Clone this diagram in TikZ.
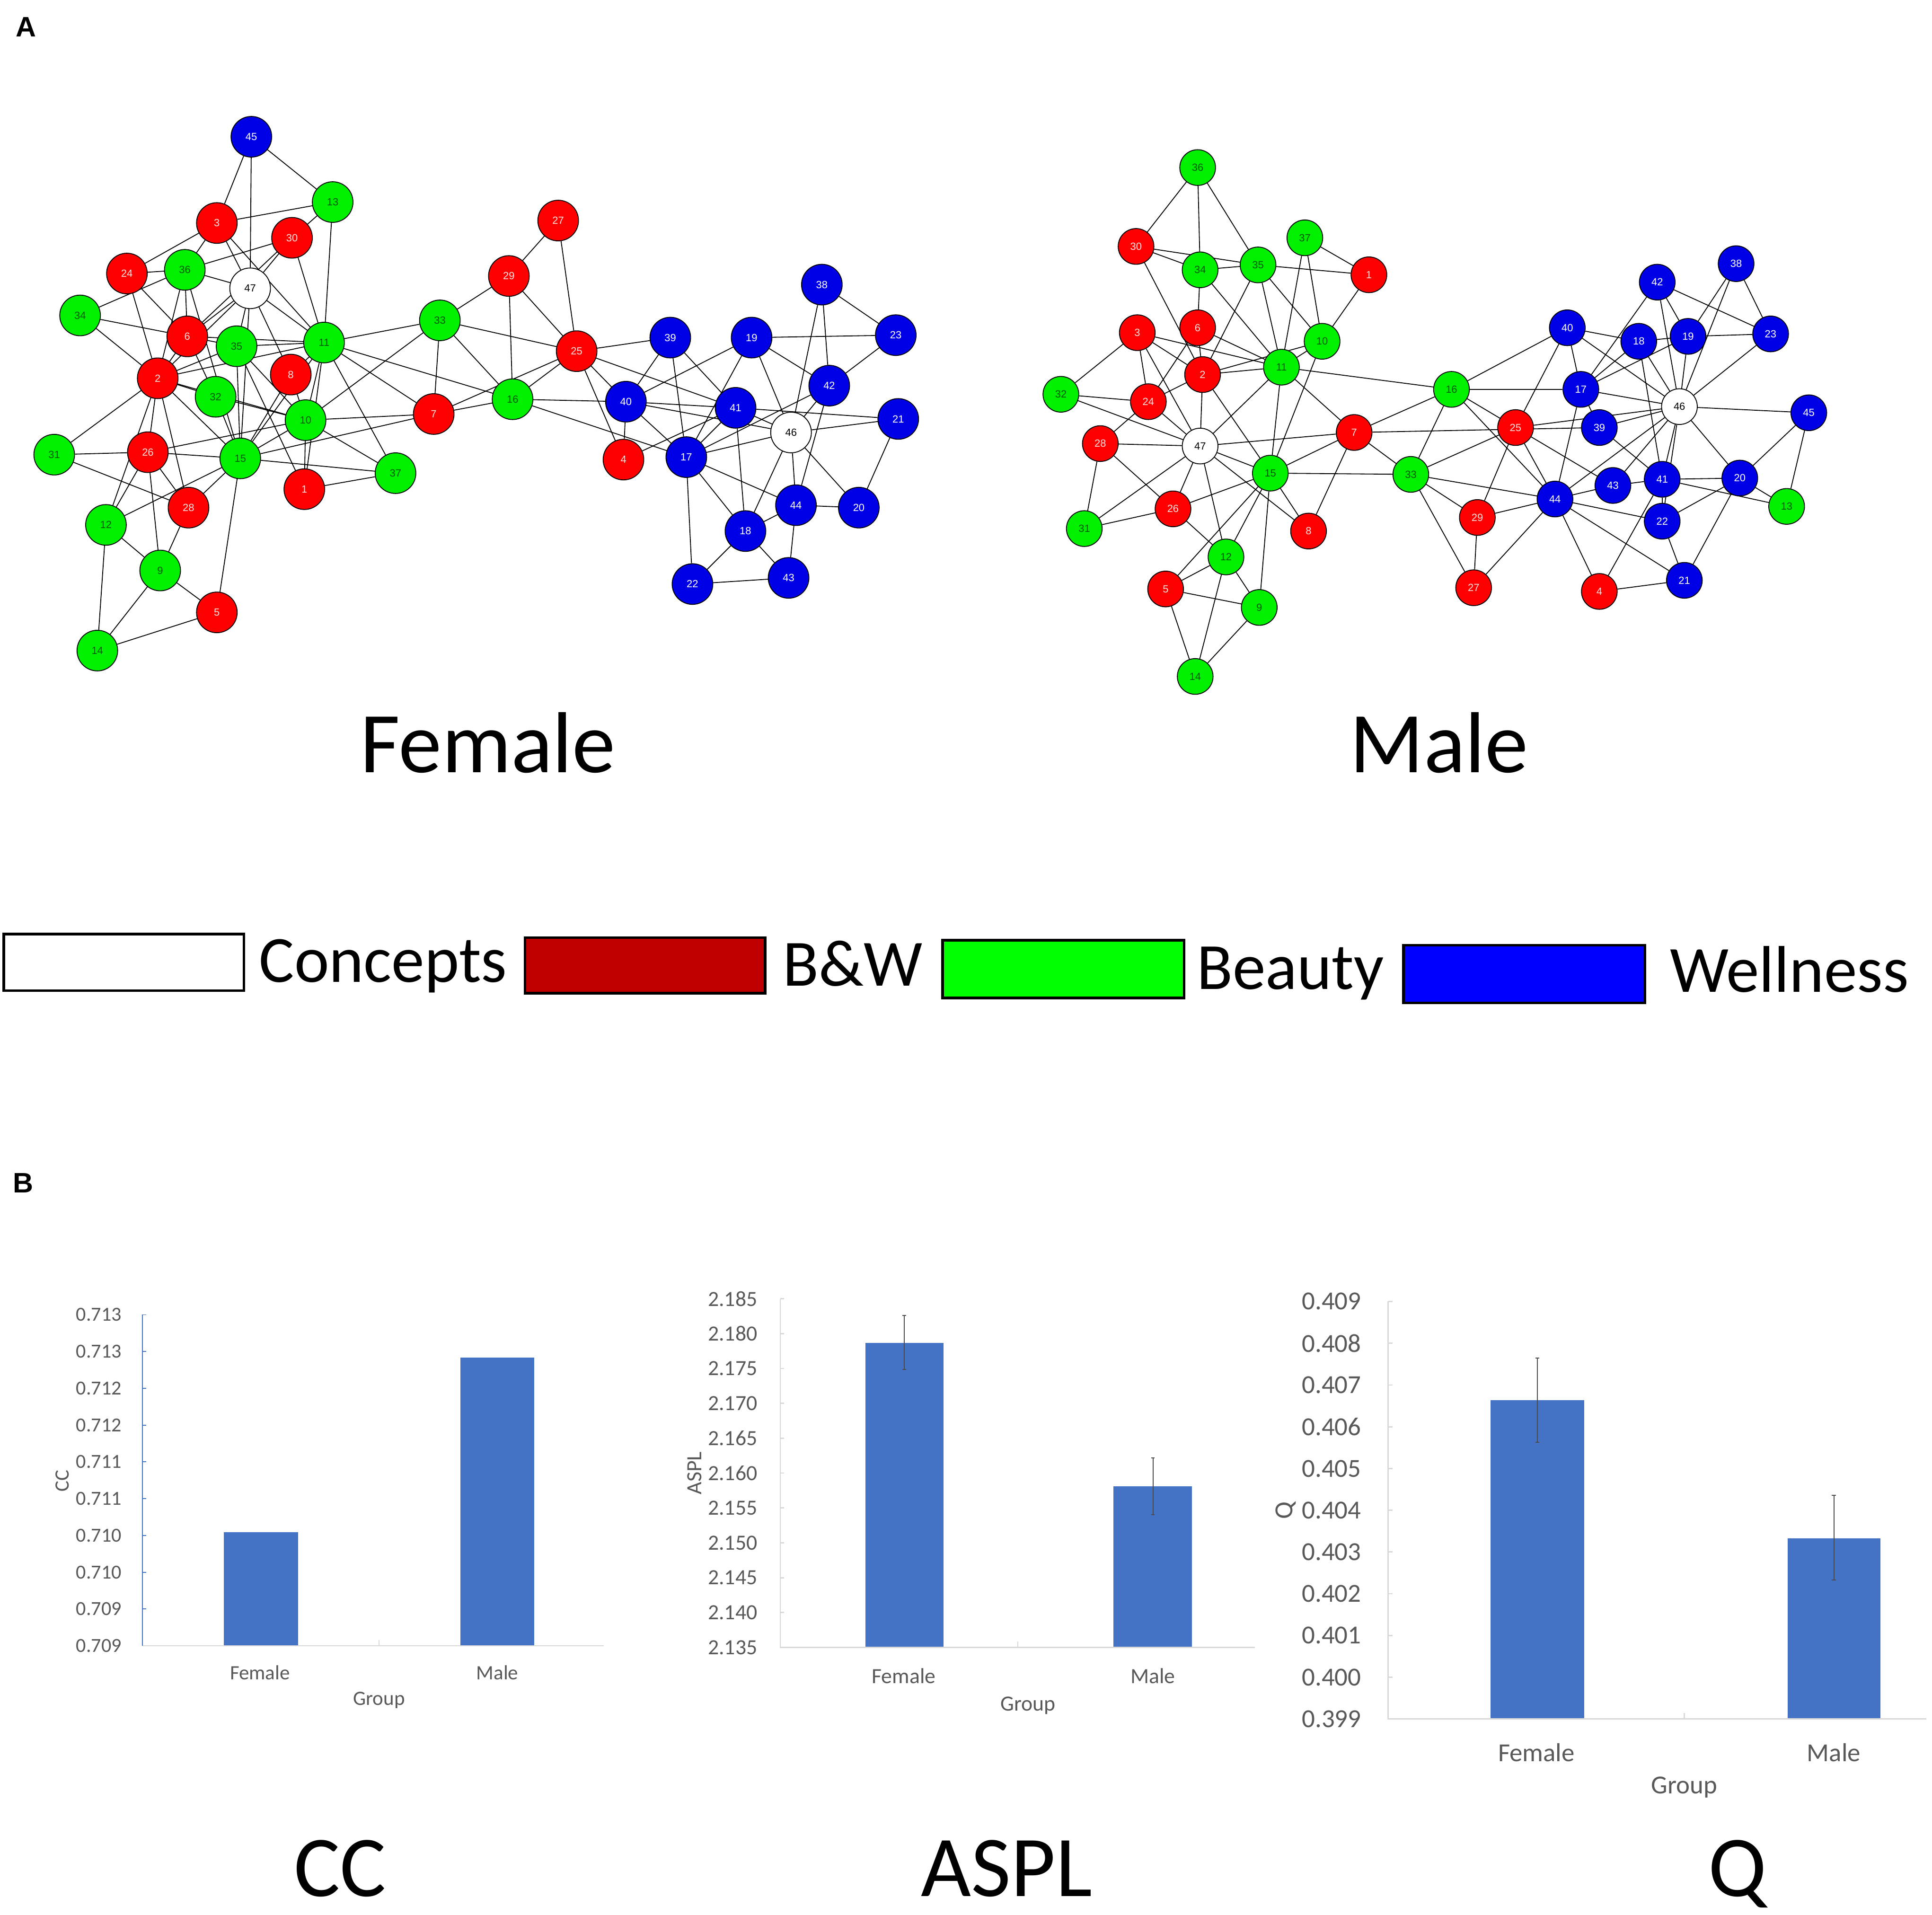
\documentclass[tikz,border=0pt]{standalone}
\usepackage{fontspec}
\setmainfont{Carlito}
\newfontfamily\netfont{Liberation Sans}
\usetikzlibrary{backgrounds}

\definecolor{bwred}{HTML}{FF0000}
\definecolor{beautygreen}{HTML}{00F000}
\definecolor{wellblue}{HTML}{0000E6}
\definecolor{legred}{HTML}{C00000}
\definecolor{leggreen}{HTML}{00FF00}
\definecolor{legblue}{HTML}{0000FF}
\definecolor{barblue}{HTML}{4472C4}
\definecolor{axisgray}{HTML}{D9D9D9}
\definecolor{labelgray}{HTML}{595959}

\tikzset{
  netnode/.style={circle, draw=black, line width=0.4pt, minimum size=0.66cm,
    inner sep=0pt, font=\netfont\fontsize{4.8}{5.5}\selectfont},
  bw/.style={netnode, fill=bwred, text=red!12!white},
  beauty/.style={netnode, fill=beautygreen, text=green!35!black},
  well/.style={netnode, fill=wellblue, text=white},
  concept/.style={netnode, fill=white, text=black},
  link/.style={line width=0.75pt, black},
  panel/.style={inner sep=0pt, font=\netfont\bfseries\fontsize{13}{15}\selectfont},
  title/.style={inner sep=0pt, font=\fontsize{40}{48}\selectfont},
  legbox/.style={draw=black, line width=1.2pt},
  legtext/.style={anchor=base west, inner sep=0pt, font=\fontsize{30.5}{36}\selectfont},
  ticklabel/.style={anchor=east, inner sep=0pt, text=labelgray},
  catlabel/.style={inner sep=0pt, text=labelgray},
  axisline/.style={draw=axisgray, line width=0.6pt},
  errbar/.style={draw=black!70, line width=0.45pt},
}

\begin{document}
\begin{tikzpicture}[x=0.02cm, y=-0.02cm]
  \useasboundingbox (0,0) rectangle (1568,1554);

  \node[panel] (pa) at (21,22) {A};
  \node[panel] (pb) at (19,960) {B};

  % female network
  \path
    (204,111) node[well] (f45) {45}
    (270,164) node[beauty] (f13) {13}
    (176,181) node[bw] (f3) {3}
    (237,193) node[bw] (f30) {30}
    (453,179) node[bw] (f27) {27}
    (103,222) node[bw] (f24) {24}
    (150,219) node[beauty] (f36) {36}
    (203,234) node[concept] (f47) {47}
    (413,224) node[bw] (f29) {29}
    (65,256) node[beauty] (f34) {34}
    (357,260) node[beauty] (f33) {33}
    (667,231) node[well] (f38) {38}
    (152,273) node[bw] (f6) {6}
    (192,281) node[beauty] (f35) {35}
    (263,278) node[beauty] (f11) {11}
    (468,285) node[bw] (f25) {25}
    (544,274) node[well] (f39) {39}
    (610,274) node[well] (f19) {19}
    (727,272) node[well] (f23) {23}
    (128,307) node[bw] (f2) {2}
    (236,304) node[bw] (f8) {8}
    (175,322) node[beauty] (f32) {32}
    (416,324) node[beauty] (f16) {16}
    (508,326) node[well] (f40) {40}
    (673,313) node[well] (f42) {42}
    (248,341) node[beauty] (f10) {10}
    (352,336) node[bw] (f7) {7}
    (597,331) node[well] (f41) {41}
    (642,351) node[concept] (f46) {46}
    (729,340) node[well] (f21) {21}
    (44,369) node[beauty] (f31) {31}
    (120,367) node[bw] (f26) {26}
    (195,372) node[beauty] (f15) {15}
    (321,384) node[beauty] (f37) {37}
    (557,371) node[well] (f17) {17}
    (506,373) node[bw] (f4) {4}
    (247,397) node[bw] (f1) {1}
    (153,412) node[bw] (f28) {28}
    (646,410) node[well] (f44) {44}
    (697,412) node[well] (f20) {20}
    (86,426) node[beauty] (f12) {12}
    (605,431) node[well] (f18) {18}
    (130,463) node[beauty] (f9) {9}
    (640,469) node[well] (f43) {43}
    (562,474) node[well] (f22) {22}
    (176,497) node[bw] (f5) {5}
    (79,528) node[beauty] (f14) {14};

  % male network
  \begin{scope}[netnode/.append style={minimum size=0.58cm}]
  \path
    (972,136) node[beauty] (m36) {36}
    (922,200) node[bw] (m30) {30}
    (1059,193) node[beauty] (m37) {37}
    (974,219) node[beauty] (m34) {34}
    (1021,215) node[beauty] (m35) {35}
    (1111,223) node[bw] (m1) {1}
    (1345,229) node[well] (m42) {42}
    (1409,214) node[well] (m38) {38}
    (923,270) node[bw] (m3) {3}
    (972,266) node[bw] (m6) {6}
    (1073,277) node[beauty] (m10) {10}
    (1272,266) node[well] (m40) {40}
    (1330,277) node[well] (m18) {18}
    (1370,273) node[well] (m19) {19}
    (1437,271) node[well] (m23) {23}
    (976,304) node[bw] (m2) {2}
    (1040,298) node[beauty] (m11) {11}
    (861,320) node[beauty] (m32) {32}
    (932,326) node[bw] (m24) {24}
    (1178,316) node[beauty] (m16) {16}
    (1283,316) node[well] (m17) {17}
    (1363,330) node[concept] (m46) {46}
    (1468,335) node[well] (m45) {45}
    (1099,351) node[bw] (m7) {7}
    (1230,347) node[bw] (m25) {25}
    (1298,347) node[well] (m39) {39}
    (893,360) node[bw] (m28) {28}
    (974,362) node[concept] (m47) {47}
    (1031,384) node[beauty] (m15) {15}
    (1145,385) node[beauty] (m33) {33}
    (1309,394) node[well] (m43) {43}
    (1349,389) node[well] (m41) {41}
    (1412,388) node[well] (m20) {20}
    (1450,411) node[beauty] (m13) {13}
    (1262,405) node[well] (m44) {44}
    (1349,423) node[well] (m22) {22}
    (952,413) node[bw] (m26) {26}
    (1199,420) node[bw] (m29) {29}
    (1062,431) node[bw] (m8) {8}
    (880,429) node[beauty] (m31) {31}
    (995,452) node[beauty] (m12) {12}
    (1367,471) node[well] (m21) {21}
    (946,478) node[bw] (m5) {5}
    (1196,477) node[bw] (m27) {27}
    (1298,480) node[bw] (m4) {4}
    (1022,493) node[beauty] (m9) {9}
    (970,549) node[beauty] (m14) {14};
  \end{scope}

  \node[title, anchor=base] (tfemale) at (396,627) {Female};
  \node[title, anchor=base] (tmale) at (1168,627) {Male};

  % links, kept under the circles
  \begin{scope}[on background layer, link]
    \fill[white] (0,0) rectangle (1568,1554);
    \draw (f45) to (f3);
    \draw (f45) to (f47);
    \draw (f45) to (f13);
    \draw (f13) to (f3);
    \draw (f13) to (f30);
    \draw (f13) to (f11);
    \draw (f3) to (f24);
    \draw (f3) to (f36);
    \draw (f3) to (f47);
    \draw (f3) to (f11);
    \draw (f30) to (f36);
    \draw (f30) to (f47);
    \draw (f30) to (f6);
    \draw (f30) to (f11);
    \draw (f24) to (f36);
    \draw (f24) to (f2);
    \draw (f24) to (f6);
    \draw (f34) to (f36);
    \draw (f34) to (f6);
    \draw (f34) to (f2);
    \draw (f36) to (f47);
    \draw (f36) to (f2);
    \draw (f36) to (f6);
    \draw (f36) to (f15);
    \draw (f47) to (f6);
    \draw (f47) to (f35);
    \draw (f47) to (f11);
    \draw (f47) to (f8);
    \draw (f47) to (f15);
    \draw (f47) to (f2);
    \draw (f6) to (f35);
    \draw (f6) to (f11);
    \draw (f6) to (f2);
    \draw (f6) to (f32);
    \draw (f35) to (f11);
    \draw (f35) to (f2);
    \draw (f35) to (f15);
    \draw (f35) to (f1);
    \draw (f35) to (f10);
    \draw (f11) to (f2);
    \draw (f11) to (f33);
    \draw (f11) to (f16);
    \draw (f11) to (f7);
    \draw (f11) to (f10);
    \draw (f11) to (f37);
    \draw (f11) to (f15);
    \draw (f11) to (f8);
    \draw (f11) to (f1);
    \draw (f2) to (f32);
    \draw (f2) to (f31);
    \draw (f2) to (f26);
    \draw (f2) to (f28);
    \draw (f2) to (f15);
    \draw (f2) to (f12);
    \draw (f2) to (f10);
    \draw (f32) to (f10);
    \draw (f32) to (f15);
    \draw (f31) to (f26);
    \draw (f31) to (f28);
    \draw (f26) to (f15);
    \draw (f26) to (f10);
    \draw (f26) to (f12);
    \draw (f26) to (f28);
    \draw (f26) to (f9);
    \draw (f28) to (f15);
    \draw (f28) to (f9);
    \draw (f12) to (f15);
    \draw (f12) to (f9);
    \draw (f12) to (f14);
    \draw (f9) to (f5);
    \draw (f9) to (f14);
    \draw (f5) to (f14);
    \draw (f5) to (f15);
    \draw (f15) to (f10);
    \draw (f15) to (f8);
    \draw (f15) to (f37);
    \draw (f15) to (f7);
    \draw (f10) to (f1);
    \draw (f10) to (f8);
    \draw (f10) to (f37);
    \draw (f10) to (f7);
    \draw (f10) to (f33);
    \draw (f1) to (f37);
    \draw (f27) to (f29);
    \draw (f27) to (f25);
    \draw (f29) to (f33);
    \draw (f29) to (f16);
    \draw (f29) to (f25);
    \draw (f33) to (f25);
    \draw (f33) to (f7);
    \draw (f33) to (f16);
    \draw (f7) to (f16);
    \draw (f7) to (f25);
    \draw (f16) to (f25);
    \draw (f16) to (f40);
    \draw (f16) to (f17);
    \draw (f25) to (f40);
    \draw (f25) to (f4);
    \draw (f25) to (f39);
    \draw (f25) to (f41);
    \draw (f40) to (f4);
    \draw (f39) to (f40);
    \draw (f39) to (f17);
    \draw (f39) to (f41);
    \draw (f19) to (f40);
    \draw (f19) to (f23);
    \draw (f19) to (f42);
    \draw (f19) to (f46);
    \draw (f19) to (f17);
    \draw (f38) to (f23);
    \draw (f38) to (f42);
    \draw (f38) to (f46);
    \draw (f23) to (f42);
    \draw (f42) to (f17);
    \draw (f42) to (f46);
    \draw (f42) to (f44);
    \draw (f40) to (f41);
    \draw (f40) to (f46);
    \draw (f40) to (f17);
    \draw (f41) to (f21);
    \draw (f41) to (f46);
    \draw (f41) to (f17);
    \draw (f41) to (f18);
    \draw (f46) to (f21);
    \draw (f46) to (f17);
    \draw (f46) to (f44);
    \draw (f46) to (f20);
    \draw (f46) to (f18);
    \draw (f21) to (f20);
    \draw (f17) to (f44);
    \draw (f17) to (f18);
    \draw (f17) to (f22);
    \draw (f4) to (f41);
    \draw (f18) to (f44);
    \draw (f18) to (f43);
    \draw (f18) to (f22);
    \draw (f44) to (f43);
    \draw (f44) to (f20);
    \draw (f22) to (f43);
    % male
    \draw (m36) to (m30);
    \draw (m36) to (m34);
    \draw (m36) to (m35);
    \draw (m30) to (m34);
    \draw (m30) to (m35);
    \draw (m30) to (m2);
    \draw (m34) to (m35);
    \draw (m34) to (m6);
    \draw (m34) to (m11);
    \draw (m35) to (m1);
    \draw (m35) to (m2);
    \draw (m35) to (m11);
    \draw (m35) to (m10);
    \draw (m37) to (m1);
    \draw (m37) to (m11);
    \draw (m37) to (m10);
    \draw (m1) to (m10);
    \draw (m6) to (m2);
    \draw (m6) to (m11);
    \draw (m6) to (m24);
    \draw (m3) to (m32);
    \draw (m3) to (m24);
    \draw (m3) to (m11);
    \draw (m3) to (m2);
    \draw (m3) to (m47);
    \draw (m2) to (m11);
    \draw (m2) to (m24);
    \draw (m2) to (m47);
    \draw (m2) to (m15);
    \draw (m2) to (m10);
    \draw (m10) to (m11);
    \draw (m10) to (m15);
    \draw (m11) to (m7);
    \draw (m11) to (m47);
    \draw (m11) to (m15);
    \draw (m11) to (m16);
    \draw (m32) to (m24);
    \draw (m32) to (m47);
    \draw (m24) to (m28);
    \draw (m24) to (m47);
    \draw (m47) to (m28);
    \draw (m47) to (m7);
    \draw (m47) to (m15);
    \draw (m47) to (m8);
    \draw (m47) to (m12);
    \draw (m47) to (m26);
    \draw (m47) to (m31);
    \draw (m28) to (m31);
    \draw (m28) to (m26);
    \draw (m26) to (m31);
    \draw (m26) to (m15);
    \draw (m26) to (m12);
    \draw (m15) to (m7);
    \draw (m15) to (m33);
    \draw (m15) to (m8);
    \draw (m15) to (m12);
    \draw (m15) to (m5);
    \draw (m15) to (m9);
    \draw (m7) to (m8);
    \draw (m7) to (m33);
    \draw (m7) to (m16);
    \draw (m7) to (m39);
    \draw (m12) to (m5);
    \draw (m12) to (m9);
    \draw (m12) to (m14);
    \draw (m5) to (m9);
    \draw (m5) to (m14);
    \draw (m9) to (m14);
    \draw (m16) to (m40);
    \draw (m16) to (m17);
    \draw (m16) to (m25);
    \draw (m16) to (m44);
    \draw (m16) to (m33);
    \draw (m33) to (m25);
    \draw (m33) to (m44);
    \draw (m33) to (m29);
    \draw (m33) to (m27);
    \draw (m25) to (m40);
    \draw (m25) to (m29);
    \draw (m25) to (m44);
    \draw (m25) to (m43);
    \draw (m25) to (m46);
    \draw (m29) to (m44);
    \draw (m29) to (m27);
    \draw (m27) to (m44);
    \draw (m40) to (m17);
    \draw (m40) to (m18);
    \draw (m40) to (m46);
    \draw (m17) to (m42);
    \draw (m17) to (m18);
    \draw (m17) to (m19);
    \draw (m17) to (m46);
    \draw (m17) to (m39);
    \draw (m17) to (m44);
    \draw (m39) to (m46);
    \draw (m39) to (m41);
    \draw (m18) to (m41);
    \draw (m18) to (m46);
    \draw (m18) to (m19);
    \draw (m43) to (m44);
    \draw (m43) to (m41);
    \draw (m43) to (m46);
    \draw (m44) to (m46);
    \draw (m44) to (m22);
    \draw (m44) to (m21);
    \draw (m44) to (m4);
    \draw (m4) to (m21);
    \draw (m4) to (m41);
    \draw (m42) to (m19);
    \draw (m42) to (m46);
    \draw (m42) to (m23);
    \draw (m38) to (m19);
    \draw (m38) to (m46);
    \draw (m38) to (m23);
    \draw (m19) to (m23);
    \draw (m19) to (m46);
    \draw (m23) to (m46);
    \draw (m46) to (m45);
    \draw (m46) to (m20);
    \draw (m46) to (m41);
    \draw (m46) to (m22);
    \draw (m45) to (m20);
    \draw (m45) to (m13);
    \draw (m41) to (m20);
    \draw (m41) to (m13);
    \draw (m41) to (m22);
    \draw (m20) to (m13);
    \draw (m20) to (m22);
    \draw (m20) to (m21);
    \draw (m22) to (m21);
  \end{scope}

  % legend
  \draw[legbox, fill=white] (3,758) rectangle (198,804);
  \node[legtext] (lconcepts) at (210,797) {Concepts};
  \draw[legbox, fill=legred] (426,761) rectangle (621,806);
  \node[legtext] (lbw) at (635,800) {B\&W};
  \draw[legbox, fill=leggreen] (765,763) rectangle (961,810);
  \node[legtext] (lbeauty) at (971,803) {Beauty};
  \draw[legbox, fill=legblue] (1139,767) rectangle (1335,814);
  \node[legtext] (lwellness) at (1355,805) {Wellness};

  % chart CC
  \fill[barblue] (181.7,1243.5) rectangle (242,1335.6);
  \fill[barblue] (373.8,1101.7) rectangle (433.7,1335.6);
  \draw[axisline] (115.6,1335.6) -- (490,1335.6);
  \draw[axisline] (307.6,1335.6) -- (307.6,1331);
  \draw[draw=barblue, line width=0.5pt] (115.6,1067) -- (115.6,1335.6);
  \draw[draw=barblue, line width=0.4pt]
    (115.6,1067) -- ++(3,0) (115.6,1096.9) -- ++(3,0) (115.6,1126.7) -- ++(3,0)
    (115.6,1156.6) -- ++(3,0) (115.6,1186.4) -- ++(3,0) (115.6,1216.3) -- ++(3,0)
    (115.6,1246.1) -- ++(3,0) (115.6,1276) -- ++(3,0) (115.6,1305.8) -- ++(3,0);
  \path[font=\fontsize{9.2}{11}\selectfont]
    (99,1067) node[ticklabel] (cc0) {0.713}
    (99,1096.9) node[ticklabel] (cc1) {0.713}
    (99,1126.7) node[ticklabel] (cc2) {0.712}
    (99,1156.6) node[ticklabel] (cc3) {0.712}
    (99,1186.4) node[ticklabel] (cc4) {0.711}
    (99,1216.3) node[ticklabel] (cc5) {0.711}
    (99,1246.1) node[ticklabel] (cc6) {0.710}
    (99,1276) node[ticklabel] (cc7) {0.710}
    (99,1305.8) node[ticklabel] (cc8) {0.709}
    (99,1335.6) node[ticklabel] (cc9) {0.709};
  \path[font=\fontsize{9.4}{11}\selectfont]
    (211,1357.6) node[catlabel] (ccfemale) {Female}
    (403.6,1357.6) node[catlabel] (ccmale) {Male}
    (307.6,1380) node[catlabel] (ccgroup) {Group}
    (50.7,1201.7) node[catlabel, rotate=90] (ccaxis) {CC};
  \node[title, anchor=base] (tcc) at (276,1539) {CC};

  % chart ASPL
  \fill[barblue] (702.3,1089.8) rectangle (765.6,1337);
  \fill[barblue] (903.8,1206.2) rectangle (967.5,1337);
  \draw[errbar] (734,1067.5) -- (734,1111.4) (732.5,1067.5) -- (735.5,1067.5) (732.5,1111.4) -- (735.5,1111.4);
  \draw[errbar] (935.7,1183.3) -- (935.7,1229.1) (934.2,1183.3) -- (937.2,1183.3) (934.2,1229.1) -- (937.2,1229.1);
  \draw[axisline] (633.3,1054) -- (633.3,1337) -- (1018.5,1337);
  \draw[axisline] (826,1337) -- (826,1332);
  \draw[axisline]
    (633.3,1054) -- ++(3,0) (633.3,1082.3) -- ++(3,0) (633.3,1110.6) -- ++(3,0)
    (633.3,1138.9) -- ++(3,0) (633.3,1167.2) -- ++(3,0) (633.3,1195.5) -- ++(3,0)
    (633.3,1223.8) -- ++(3,0) (633.3,1252.1) -- ++(3,0) (633.3,1280.4) -- ++(3,0)
    (633.3,1308.7) -- ++(3,0);
  \path[font=\fontsize{10}{12}\selectfont]
    (615,1054) node[ticklabel] (as0) {2.185}
    (615,1082.3) node[ticklabel] (as1) {2.180}
    (615,1110.6) node[ticklabel] (as2) {2.175}
    (615,1138.9) node[ticklabel] (as3) {2.170}
    (615,1167.2) node[ticklabel] (as4) {2.165}
    (615,1195.5) node[ticklabel] (as5) {2.160}
    (615,1223.8) node[ticklabel] (as6) {2.155}
    (615,1252.1) node[ticklabel] (as7) {2.150}
    (615,1280.4) node[ticklabel] (as8) {2.145}
    (615,1308.7) node[ticklabel] (as9) {2.140}
    (615,1337) node[ticklabel] (as10) {2.135};
  \path[font=\fontsize{10}{12}\selectfont]
    (733.5,1360) node[catlabel] (asfemale) {Female}
    (935.7,1360) node[catlabel] (asmale) {Male}
    (834.4,1384) node[catlabel] (asgroup) {Group}
    (563.7,1195.5) node[catlabel, rotate=90] (asaxis) {ASPL};
  \node[title, anchor=base] (taspl) at (817,1539) {ASPL};

  % chart Q
  \fill[barblue] (1209.6,1136.5) rectangle (1285.8,1395.1);
  \fill[barblue] (1450.7,1248.6) rectangle (1526.2,1395.1);
  \draw[errbar] (1247.7,1102.1) -- (1247.7,1170.6) (1246,1102.1) -- (1249.4,1102.1) (1246,1170.6) -- (1249.4,1170.6);
  \draw[errbar] (1488.4,1213.4) -- (1488.4,1282.4) (1486.7,1213.4) -- (1490.1,1213.4) (1486.7,1282.4) -- (1490.1,1282.4);
  \draw[axisline] (1126.6,1056.2) -- (1126.6,1395.1) -- (1563.4,1395.1);
  \draw[axisline] (1367,1395.1) -- (1367,1390);
  \draw[axisline]
    (1126.6,1056.2) -- ++(3.5,0) (1126.6,1090.1) -- ++(3.5,0) (1126.6,1124) -- ++(3.5,0)
    (1126.6,1157.9) -- ++(3.5,0) (1126.6,1191.8) -- ++(3.5,0) (1126.6,1225.7) -- ++(3.5,0)
    (1126.6,1259.5) -- ++(3.5,0) (1126.6,1293.4) -- ++(3.5,0) (1126.6,1327.3) -- ++(3.5,0)
    (1126.6,1361.2) -- ++(3.5,0);
  \path[font=\fontsize{12}{14}\selectfont]
    (1105,1056.2) node[ticklabel] (q0) {0.409}
    (1105,1090.1) node[ticklabel] (q1) {0.408}
    (1105,1124) node[ticklabel] (q2) {0.407}
    (1105,1157.9) node[ticklabel] (q3) {0.406}
    (1105,1191.8) node[ticklabel] (q4) {0.405}
    (1105,1225.7) node[ticklabel] (q5) {0.404}
    (1105,1259.5) node[ticklabel] (q6) {0.403}
    (1105,1293.4) node[ticklabel] (q7) {0.402}
    (1105,1327.3) node[ticklabel] (q8) {0.401}
    (1105,1361.2) node[ticklabel] (q9) {0.400}
    (1105,1395.1) node[ticklabel] (q10) {0.399};
  \path[font=\fontsize{12}{14}\selectfont]
    (1246.9,1422.4) node[catlabel] (qfemale) {Female}
    (1488.3,1422.4) node[catlabel] (qmale) {Male}
    (1367,1450.5) node[catlabel] (qgroup) {Group}
    (1043.6,1226) node[catlabel, rotate=90] (qaxis) {Q};
  \node[title, anchor=base] (tq) at (1410,1539) {Q};
\end{tikzpicture}
\end{document}
